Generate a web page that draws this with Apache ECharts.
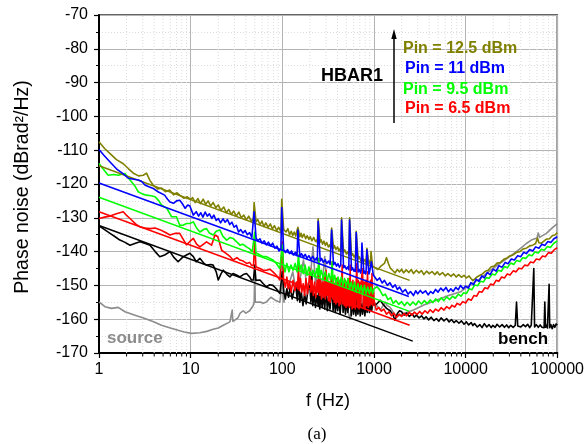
<!DOCTYPE html>
<html>
<head>
<meta charset="utf-8">
<script src="https://cdn.jsdelivr.net/npm/echarts@6/dist/echarts.min.js"></script>
<style>html,body{margin:0;padding:0;background:#fff}#c{width:587px;height:444px}</style>
</head>
<body>
<div id="c"></div>
<script>
// ---------- tick lists ----------
const xMinorTicks = [2,3,4,5,6,7,8,9,20,30,40,50,60,70,80,90,200,300,400,500,600,700,800,900,
  2000,3000,4000,5000,6000,7000,8000,9000,20000,30000,40000,50000,60000,70000,80000,90000];
const seriesNames = ['Pin = 12.5 dBm','Pin = 11 dBm','Pin = 9.5 dBm','Pin = 6.5 dBm','bench','source'];

// ---------- measured data [f (Hz), dBrad2/Hz] ----------
const olive125 = [[1,-107.5],[1.15,-109.5],[1.32,-111],[1.55,-112.8],[1.84,-114],[2.1,-115.5],[2.37,-116.8],[2.7,-117.6],[3.04,-117.4],[3.3,-116.8],[3.6,-119],[3.9,-120.3],[4.4,-121.5],[4.8,-121.2],[5.3,-122.3],[5.9,-121.8],[6.5,-123.2],[7.1,-122.6],[7.6,-123.3],[8.4,-124.2],[9.2,-123.8],[10,-124.6],
  [10.5,-124],[11.2,-125.5],[12,-124.3],[12.8,-125.8],[13.7,-124.5],[14.6,-126],[15.5,-125],[16.5,-126.5],[17.6,-125.5],[18.8,-127],[20,-126.2],[21.3,-127.8],[23,-126.8],[24.5,-128.5],[26,-127.5],[27.8,-129],[29.5,-128],[31.5,-129.5],[33.5,-128.3],[35.7,-130],[38,-129.2],[40.5,-130.6],[43,-129.5],[46,-131],[48.3,-130.3],[49.25,-125.5],[50.75,-125.5],[51.75,-131.2],[54,-130.5],[57,-132],[60,-131],[63,-132.6],[66,-131.5],[70,-132.8],[74,-131.8],[78,-133.3],[82,-132.3],[87,-133.8],[91,-132.8],[96.5,-134],[98.5,-124.5],[101.5,-124.5],[103.5,-133.5],
  [110,-134.2],[115,-133.2],[120,-135],[125,-134],[130,-135.2],[135,-134.2],[140,-135.4],[144.8,-135],[147.8,-132.8],[152.3,-132.8],[155.3,-135.6],[160,-134.6],[165,-135.8],[172,-134.8],[180,-136.2],[187,-135.3],[195,-136.4],[202,-135.6],[210,-136.8],[220,-135.8],[230,-137],[240,-136.4],[241,-137.4],[246,-130.3],[254,-130.3],[259,-137.2],[265,-136.5],[275,-137.8],[285,-136.9],[295,-138.2],[305,-137.3],[318,-138.6],[330,-138],[338,-139],[345,-133],[355,-133],[362,-139],[370,-138.2],[385,-139.4],[400,-138.6],[415,-139.8],[430,-139],[434,-140],[443,-130],[457,-130],[466,-140.2],[480,-139.5],[500,-140.7],[520,-140],[531,-141],[542,-130],[558,-130],[569,-141.2],[585,-140.6],[605,-141.6],[625,-141],[627,-142],[640,-134],[660,-134],[673,-142.2],[690,-141.5],[720,-142.7],[750,-142],[775,-143],[800,-142.3],[820,-143.4],[837,-139],[863,-139],[880,-143.6],[895,-142.8],[917,-144],[928,-140],[952,-140],[966,-144.3],[1000,-144.5],
  [1100,-145.3],[1200,-144.2],[1300,-143.5],[1370,-141.8],[1440,-143.6],[1500,-144.8],[1600,-145.6],[1700,-146.3],[1800,-145.3],[1900,-146],[2000,-145.2],[2100,-146.3],[2250,-145.4],[2400,-146.2],[2550,-145.3],[2700,-146.5],[2900,-145.5],[3100,-146.3],[3300,-145.6],[3500,-146.8],[3750,-145.8],[4000,-146.5],[4300,-145.9],[4600,-146.8],[4900,-146],[5200,-146.9],[5600,-146.2],[6000,-147.2],[6400,-146.5],[6900,-147.3],[7400,-146.6],[7900,-147.5],[8400,-146.8],[9000,-147.6],[9600,-147],[10200,-147.8],[10900,-147.2],[11500,-148],[12000,-148.6],[12600,-148.2],[13300,-147.5],[14300,-147],[15300,-146.6],[16400,-145.8],[17600,-145.5],[19000,-144.5],[20500,-144.3],[22000,-143.4],[24000,-143.2],[26000,-142.3],[28000,-142],[30000,-141.3],[33000,-141],[36000,-140.2],[39000,-140],[42500,-139.2],[46000,-139],[50000,-138.3],[54000,-138.1],[58000,-137.6],[60700,-136],[63000,-137.4],[67000,-137.5],[70000,-137],[76000,-136.3],[82000,-136.2],[88000,-135.3],[94000,-135.1],[100000,-134.4]];

const blue11 = [[1,-109.8],[1.13,-111.5],[1.32,-113.5],[1.55,-115.5],[1.84,-117],[2.09,-118.3],[2.4,-118.6],[2.68,-118.8],[2.9,-119.2],[3.17,-120.3],[3.5,-120.8],[3.9,-121.3],[4.4,-122.3],[5.2,-123.3],[5.6,-124.5],[5.95,-125.3],[6.5,-125.7],[7,-125],[7.6,-124.8],[8.2,-126],[8.7,-127.2],[9.3,-126.2],[9.8,-126.5],
  [10.7,-129.2],[11.5,-128.2],[12.2,-129.5],[12.9,-128.5],[13.6,-129.8],[14.4,-128.3],[15.2,-129.5],[16,-128.8],[17,-130.2],[17.9,-129.2],[19,-130.8],[20,-130.2],[21.2,-131.5],[22.5,-130.3],[23.8,-131.3],[25.2,-130.5],[26.7,-132],[28.2,-131.3],[29.8,-132.8],[31.5,-132.2],[33.3,-134.2],[35.2,-133.5],[37.2,-134.5],[39.3,-133.8],[41.5,-135],[44,-134.4],[46.5,-135.8],[48.3,-135.5],[49.25,-128.2],[50.75,-128.2],[51.75,-136],[54,-136.8],[57,-136.2],[60,-137.5],[63.5,-136.8],[67,-138],[70.5,-137.2],[74.5,-138.3],[78.5,-137.5],[83,-139],[87.5,-138.4],[92,-139.8],[96.5,-139.2],[98.5,-127],[101.5,-127],[103.5,-139.5],
  [108,-140.3],[114,-139.4],[120,-140.6],[126,-139.8],[132,-141],[139,-140.2],[144.8,-141.2],[147.8,-133.6],[152.3,-133.6],[155.3,-141.4],[162,-140.6],[170,-141.6],[178,-140.8],[186,-142],[195,-141.2],[205,-142.3],[215,-141.4],[226,-142.6],[237,-141.8],[241,-142.8],[246,-131],[254,-131],[259,-142.8],[268,-142],[280,-143.2],[293,-142.4],[306,-143.5],[320,-142.8],[332,-143.8],[338,-143.3],[345,-133.6],[355,-133.6],[362,-143.9],[375,-143.2],[390,-144.3],[405,-143.6],[420,-144.6],[434,-144],[443,-130.7],[457,-130.7],[466,-144.8],[480,-144.2],[500,-145.2],[520,-144.5],[531,-145.4],[542,-130.7],[558,-130.7],[569,-145.5],[585,-144.8],[605,-145.8],[625,-145.1],[627,-145.9],[640,-134.4],[660,-134.4],[673,-146],[690,-145.3],[715,-146.3],[724,-145.7],[739,-137.5],[761,-137.5],[776,-146.4],[790,-145.8],[812,-146.6],[820,-146],[837,-139.5],[863,-139.5],[880,-146.6],[895,-146],[917,-146.3],[936,-143],[964,-143],[983,-146.9],[1000,-147],
  [1080,-148.5],[1150,-147.8],[1230,-149.3],[1300,-148.5],[1400,-150],[1490,-149.2],[1600,-150.6],[1700,-149.8],[1800,-151.2],[1900,-150.5],[2050,-152],[2200,-151.2],[2350,-152.6],[2500,-151.8],[2700,-153],[2850,-151.6],[3000,-152.5],[3200,-151.5],[3400,-152.3],[3650,-151.6],[3900,-152.8],[4150,-151.8],[4400,-152.4],[4700,-151.2],[5000,-152],[5350,-150.8],[5700,-151.6],[6100,-150.6],[6500,-151.9],[6900,-151],[7300,-151.8],[7800,-150.6],[8300,-151.3],[8800,-150],[9400,-151],[10000,-150.2],[10700,-150.8],[11400,-149.2],[12200,-149.8],[13000,-148.2],[14000,-148.8],[15000,-147.2],[16000,-147.8],[17200,-146.2],[18500,-146.8],[20000,-145.2],[21500,-145.8],[23000,-144.2],[25000,-144.6],[27000,-143.2],[29000,-143.6],[31500,-142.2],[34000,-142.5],[37000,-141.2],[40000,-141.5],[43000,-140.2],[46000,-140.6],[50000,-139.4],[54000,-139.8],[58000,-138.6],[63000,-139],[68000,-137.8],[73000,-138.2],[79000,-137],[85000,-137.3],[92000,-136.2],[100000,-135.6]];

const green95 = [[1,-113.9],[1.1,-115.4],[1.26,-117.4],[1.45,-117.2],[1.62,-117.4],[1.92,-116.9],[2.18,-118.8],[2.45,-120.5],[2.68,-122.3],[3.0,-123],[3.3,-123.3],[3.7,-123.5],[4.1,-123.8],[4.5,-125],[4.8,-126.2],[5.5,-127.2],[6.2,-129.7],[7,-129.7],[7.6,-132.2],[8.3,-132.2],[9,-131.7],[9.8,-131.7],
  [10.7,-131.2],[11.6,-133],[12.6,-134.2],[14,-133.4],[14.9,-133.2],[16,-134.5],[17.6,-135.1],[19,-134],[20.8,-133.6],[22.5,-135.5],[24.7,-136.6],[27,-135.8],[29,-136.1],[32,-137.2],[34.5,-138.1],[37,-137.8],[40.7,-138.6],[44,-139.2],[47,-140],[48.5,-139.8],[50,-134.2],[51.5,-140.3],[57,-141],[62,-141.5],[67,-141.5],[73,-142],[79,-142.5],[86,-143.5],[94,-145],[97,-144.5],[100,-138],[103,-144],
  [107,-146],[112,-143.5],[118,-146],[124,-144],[131,-145.5],[138,-143.5],[145,-146],[150,-141],[155,-145.5],[161,-144],[169,-146.5],[177,-144],[186,-147],[195,-144.5],[205,-147],[216,-145.5],[227,-147.5],[238,-145],[244,-147],[250,-142],[256,-147.5],[266,-145.5],[280,-148],[294,-146],[308,-148.5],[322,-146.5],[336,-148.5],[343,-147],[350,-143],[357,-149],[372,-147],[388,-149.5],[405,-147.5],[422,-150],[440,-147.5],[458,-150],[478,-148],[498,-150.5],[520,-148],[542,-151],[565,-149],[589,-151.5],[614,-149],[640,-152],[667,-149.5],[695,-152],[724,-150],[755,-152.5],[787,-150],[820,-152.5],[855,-150.5],[891,-152.5],[929,-150.5],[968,-152.5],[1000,-151],
  [1080,-150.4],[1160,-151.4],[1250,-153],[1330,-152.6],[1420,-154.2],[1520,-153.6],[1620,-155.3],[1740,-154.5],[1860,-155.6],[2000,-154.8],[2150,-156],[2300,-155],[2480,-155.9],[2660,-154.9],[2860,-155.8],[3060,-154.6],[3300,-155.5],[3550,-154.5],[3800,-155.4],[4100,-154.3],[4400,-155.1],[4700,-154],[5050,-154.8],[5400,-153.7],[5800,-154.5],[6200,-153.4],[6700,-154.2],[7200,-153.2],[7700,-153.8],[8300,-152.6],[8900,-153.2],[9500,-152.2],[10200,-152.4],[10900,-151],[11700,-151.3],[12500,-149.9],[13500,-150.1],[14500,-148.8],[15600,-149],[16800,-147.7],[18000,-147.9],[19500,-146.6],[21000,-146.9],[22700,-145.5],[24500,-145.8],[26500,-144.4],[28500,-144.8],[31000,-143.4],[33500,-143.8],[36000,-142.6],[39000,-142.9],[42000,-141.8],[45500,-142],[49000,-140.9],[53000,-141.2],[57000,-140.1],[62000,-140.4],[67000,-139.3],[72000,-139.6],[78000,-138.5],[84000,-138.8],[91000,-137.6],[100000,-136.8]];

const red65 = [[1,-130.2],[1.15,-129.8],[1.32,-129.5],[1.55,-128.8],[1.84,-128.2],[2.0,-129.3],[2.18,-130.2],[2.5,-131.8],[2.8,-132.7],[3.2,-133],[3.6,-133.2],[4.1,-133],[4.6,-133.5],[5.2,-134.2],[5.95,-135.1],[6.8,-134.6],[7.6,-134.6],[8.3,-136.4],[9,-138],[9.8,-137],
  [10.7,-136.1],[11.6,-137.8],[12.6,-138.6],[14.9,-137.1],[16.9,-138.1],[18.4,-135.1],[19.8,-135.6],[21.8,-139.6],[24.5,-140.6],[27,-141.5],[29,-142.5],[32,-141.8],[34.5,-142.5],[37.5,-142.8],[40.7,-143.5],[44,-143.2],[46,-144],[48.5,-144.2],[50,-136.6],[51.5,-144.5],[57,-145],[62,-145.5],[67,-145.5],[73,-145.2],[79,-146],[86,-147],[94,-148.4],[97,-148],[100,-137.1],[103,-148],
  [108,-150.5],[112,-147.5],[116,-151],[120,-149],[125,-152],[131,-148.5],[137,-151.5],[143,-149],[147,-151],[150,-143.5],[153,-151.5],[158,-148],[163,-152],[169,-149.5],[175,-153],[181,-148],[188,-152.5],[195,-149],[200,-145],[205,-152],[211,-148.5],[218,-153],[225,-149],[232,-153.5],[240,-148.5],[246,-152],[250,-143],[254,-153],[260,-148],[267,-154],[274,-149],[281,-153.5],[288,-147.5],[295,-154],[300,-145.5],[305,-153],[312,-148],[319,-154.5],[326,-149],[333,-155],[340,-148.5],[346,-153],[350,-143],[354,-154],[361,-148],[368,-155],[376,-149.5],[384,-155.5],[392,-148],[400,-155],[408,-149],[416,-156],[425,-148.5],[434,-155.5],[443,-150],[450,-144],[456,-155.5],[465,-149],[475,-156],[485,-148.5],[495,-156.5],[505,-149],[515,-156],[526,-148],[538,-156.5],[546,-150],[550,-144],[554,-156],[565,-149],[577,-157],[589,-148.5],[601,-156.5],[613,-149.5],[626,-157],[639,-149],[650,-143.5],[660,-156.5],[673,-148.5],[687,-157],[701,-149],[716,-156.5],[731,-148],[750,-145],[766,-156.5],[782,-149],[798,-157],[815,-148.5],[832,-156],[850,-146],[866,-156.5],[884,-149.5],[902,-156],[920,-148.5],[939,-155.5],[950,-146.5],[970,-156],[990,-152],[1000,-154.4],
  [1060,-157.3],[1130,-156.5],[1200,-157.6],[1280,-157],[1370,-158.5],[1460,-157.8],[1550,-159],[1650,-158.2],[1760,-159.5],[1880,-158.5],[2000,-159.2],[2130,-158.3],[2270,-159],[2420,-158],[2600,-158.8],[2760,-157.9],[2950,-158.6],[3150,-157.7],[3350,-158.5],[3600,-157.5],[3850,-158.2],[4100,-157.2],[4400,-158],[4700,-157],[5050,-157.6],[5400,-156.6],[5800,-157.3],[6200,-156.3],[6650,-156.9],[7100,-155.9],[7600,-156.4],[8100,-155.3],[8700,-155.8],[9300,-154.8],[10000,-155.2],[10700,-154],[11500,-154.4],[12300,-153],[13200,-153.2],[14100,-151.8],[15100,-152],[16200,-150.7],[17400,-151],[18700,-149.6],[20000,-149.9],[21500,-148.5],[23000,-148.8],[24700,-147.5],[26500,-147.8],[28500,-146.6],[30500,-146.9],[33000,-145.7],[35500,-146],[38000,-144.9],[41000,-145.1],[44000,-144],[47500,-144.2],[51000,-143.1],[55000,-143.3],[59000,-142.2],[64000,-142.4],[69000,-141.3],[74000,-141.5],[80000,-140.3],[86000,-140.5],[93000,-139.4],[100000,-138.8]];

const bench = [[1,-132.4],[1.15,-133.5],[1.32,-134.6],[1.5,-135.6],[1.69,-136.6],[1.9,-137.2],[2.18,-138.1],[2.5,-137.5],[2.8,-137.1],[3.2,-137.6],[3.6,-138.1],[4.1,-140],[4.6,-141.5],[5.2,-141],[5.95,-140],[6.6,-141.8],[7.3,-143],[8.3,-141.5],[9.8,-140.5],
  [10.7,-141.5],[11.5,-143],[12.6,-142],[14,-143.5],[14.9,-144],[16.5,-143.8],[17.6,-144],[19,-146],[20,-148.4],[21.5,-146.5],[22.7,-145.5],[25,-146.8],[26.8,-147.5],[29,-146.5],[32,-147],[34.5,-147.5],[37.5,-146.8],[40.7,-146.5],[44,-147.5],[46,-148.4],[48.5,-148.4],[50,-144],[51.5,-148.5],[57,-148.4],[62,-149.5],[67,-150.4],[73,-149.8],[79,-150],[86,-151],[94,-152.4],
  [100,-146],[104,-152],[108,-154],[112,-151],[117,-153.5],[122,-150.5],[128,-154],[134,-151.5],[140,-150],[146,-154.5],[150,-147.5],[155,-155],[161,-152],[168,-156],[175,-152.5],[182,-155.5],[190,-151.5],[200,-150],[205,-155],[210,-146.5],[215,-156],[222,-152.5],[230,-156.5],[238,-153],[246,-156],[250,-149],[256,-157],[264,-153],[272,-156.5],[281,-152.5],[290,-157],[300,-151],[310,-157.5],[320,-153.5],[331,-157],[342,-153],[350,-150],[358,-157.5],[368,-153.5],[379,-158],[390,-154],[402,-157.5],[414,-153.5],[427,-158.5],[440,-154],[450,-151],[460,-158],[474,-154],[488,-158.5],[503,-154.5],[518,-158],[533,-155],[550,-153],[566,-159],[583,-154.5],[600,-158.5],[618,-155],[636,-159],[650,-154],[668,-158.5],[688,-155],[708,-159],[729,-155.5],[750,-158.5],[772,-155],[795,-159],[818,-155.5],[842,-158],[866,-155],[891,-158],[917,-155.5],[944,-157.5],[972,-155],[1000,-155.8],
  [1070,-155.5],[1170,-154.4],[1250,-155.5],[1370,-156.8],[1500,-157.5],[1600,-158.5],[1690,-160.3],[1800,-158.3],[1900,-157.5],[2000,-157.8],[2130,-158.8],[2270,-158.2],[2430,-159.2],[2600,-158.4],[2750,-159.4],[2900,-158.8],[3100,-159.6],[3300,-159],[3500,-159.9],[3700,-159.3],[3950,-160.2],[4200,-159.4],[4500,-160.4],[4800,-159.8],[5100,-160.6],[5400,-159.6],[5800,-160.5],[6200,-159.8],[6600,-160.8],[7000,-160.1],[7450,-161],[7900,-160.4],[8450,-161.2],[9000,-160.5],[9600,-161.5],[10200,-160.8],[10800,-161.7],[11500,-161],[12000,-161.9],[12500,-161.3],[13400,-162.3],[14300,-161.6],[15100,-162.5],[16000,-161.3],[17000,-162.3],[18000,-161.6],[19000,-162.5],[19800,-161.8],[21000,-162.4],[22000,-161.5],[23500,-162.3],[25000,-161.6],[26500,-162.4],[28000,-161.7],[29500,-162.5],[31000,-161.8],[33000,-162.4],[34800,-161.8],[35900,-154.9],[37000,-162],[38500,-161.5],[40000,-162.3],[42500,-161.6],[45000,-162.2],[47500,-161.5],[50000,-162.5],[52000,-161.8],[54300,-162],[55400,-145],[56500,-162.3],[59000,-161.6],[62000,-162.4],[65000,-161.7],[68000,-162.4],[71800,-162.5],[73100,-154.9],[74300,-162.4],[76000,-161.8],[78000,-162.6],[80300,-162.2],[81400,-149.7],[82600,-162.5],[85000,-161.6],[88000,-162.8],[91000,-161.6],[94000,-162.4],[97000,-161.4],[100000,-161.8]];

const source = [[1,-154.9],[1.16,-156.3],[1.37,-156.8],[1.62,-156.5],[1.92,-157.8],[2.47,-158.8],[3.17,-159.8],[4,-160.8],[4.8,-161.8],[6,-162.6],[7.3,-163.3],[8.5,-163.8],[10.2,-164.2],[12.6,-164],[15,-163.6],[17.6,-163],[20,-162.6],[22.7,-161.8],[26.8,-160.8],[28,-160.5],[28.4,-157.3],[28.8,-160.6],[30.3,-160.3],[33,-159.5],[34.5,-158.3],[37.4,-157.5],[40,-158.2],[44,-157.5],[48,-156],[49.3,-155],[50,-146],[50.7,-155],[53,-155.5],[57,-154.9],[62,-155.3],[67,-154.9],[75,-153.5],[85,-154.5],[94,-155],[98.5,-150],[100,-138],[101.5,-150],[104,-155],
  [110,-152],[120,-149],[130,-146],[140,-151],[155,-148.5],[170,-142.5],[185,-150],[200,-149],[216,-138.6],[230,-149.5],[250,-145],[270,-151],[290,-141.5],[310,-151],[330,-150],[360,-152],[390,-148],[420,-155],[460,-151],[500,-156],[550,-160],[600,-153],[650,-156],[700,-152],[760,-156],[820,-154],[900,-151],[950,-155],[1000,-155],
  [1170,-157.3],[1320,-155],[1400,-156],[1500,-156.5],[1760,-159.3],[2100,-158.3],[2700,-157.3],[3500,-155.8],[4800,-154.4],[6500,-153],[8800,-151.9],[10900,-150],[14000,-148.2],[19800,-145],[25000,-143],[32000,-141],[40000,-139],[46000,-137.6],[52000,-136.6],[60000,-136],[62000,-134.5],[64000,-135.8],[76000,-134.6],[88000,-133],[100000,-131.7]];

// 1/f fit lines
const fitOlive = [[1,-114.6],[2450,-148.5]];
const fitBlue  = [[1,-119.7],[2400,-153.3]];
const fitGreen = [[1,-123.9],[2400,-157.6]];
const fitRed   = [[1,-128.2],[2450,-161.8]];
const fitBlack = [[1,-132.3],[2650,-166.5]];

const C = {olive:'#808000', blue:'#0000ff', green:'#00ff00', red:'#ff0000', black:'#000000', grey:'#8c8c8c'};
const FONT = 'Liberation Sans, Arial, sans-serif';

function line(name, data, color, z, w) {
  return {name, type:'line', data, showSymbol:false, symbol:'none', z, silent:true,
    lineStyle:{color, width:w||1.6, join:'round'}, itemStyle:{color}};
}

const chart = echarts.init(document.getElementById('c'), null, {renderer:'canvas'});
chart.setOption({
  animation:false,
  backgroundColor:'#fff',
  grid:{left:99, right:29, top:15, bottom:91, show:true, borderColor:'#333', borderWidth:1.5, backgroundColor:'transparent'},
  xAxis:{type:'log', logBase:10, min:1, max:100000,
    axisLine:{onZero:false, lineStyle:{color:'#000', width:2}},
    axisTick:{inside:false, length:5, lineStyle:{color:'#000', width:1.2}},
    axisLabel:{color:'#000', fontSize:16, fontFamily:FONT, margin:9, formatter:v=>String(Math.round(v))},
    splitLine:{show:true, lineStyle:{color:'#b4b4b4', width:1}}},
  yAxis:{type:'value', min:-170, max:-70, interval:10,
    axisLine:{show:true, lineStyle:{color:'#000', width:2}},
    axisTick:{inside:false, length:5, lineStyle:{color:'#000', width:1.2}},
    minorTick:{show:true, splitNumber:2, length:3, lineStyle:{color:'#000', width:1}},
    minorSplitLine:{show:true, lineStyle:{color:'#dcdcdc', type:[1,2], width:1}},
    axisLabel:{color:'#000', fontSize:16, fontFamily:FONT, margin:11},
    splitLine:{show:true, lineStyle:{color:'#b4b4b4', width:1}}},
  series:[
    {type:'custom', coordinateSystem:'cartesian2d', silent:true, z:1, clip:false,
      data: xMinorTicks.map(v=>[v,-170]), encode:{x:0, y:1},
      renderItem:(params, api)=>{
        const v = api.value(0);
        const p0 = api.coord([v,-170]), p1 = api.coord([v,-70]);
        return {type:'group', children:[
          {type:'line', shape:{x1:p0[0],y1:p0[1],x2:p1[0],y2:p1[1]}, style:{stroke:'#dcdcdc', lineWidth:1, lineDash:[1,2]}},
          {type:'line', shape:{x1:p0[0],y1:p0[1],x2:p0[0],y2:p0[1]+3.5}, style:{stroke:'#000', lineWidth:1}}
        ]};
      }},
    line(seriesNames[5], source, C.grey, 3),
    line(seriesNames[4], bench, C.black, 4),
    line(seriesNames[3], red65, C.red, 5),
    line(seriesNames[2], green95, C.green, 6),
    line(seriesNames[0], olive125, C.olive, 7),
    line('fit olive', fitOlive, C.olive, 8, 1.5),
    line('fit blue', fitBlue, C.blue, 8, 1.5),
    line('fit green', fitGreen, C.green, 8, 1.5),
    line('fit red', fitRed, C.red, 8, 1.5),
    line('fit black', fitBlack, C.black, 8, 1.5),
    line(seriesNames[1], blue11, C.blue, 9)
  ],
  graphic:[
    {type:'text', x:23, y:187, rotation:Math.PI/2, z:20,
      style:{text:'Phase noise (dBrad²/Hz)', fill:'#000', font:'19.5px '+FONT, textAlign:'center', textVerticalAlign:'middle'}},
    {type:'text', x:328, y:401, z:20,
      style:{text:'f (Hz)', fill:'#000', font:'18px '+FONT, textAlign:'center', textVerticalAlign:'middle'}},
    {type:'text', x:317, y:435, z:20,
      style:{text:'(a)', fill:'#000', font:'17px Liberation Serif, serif', textAlign:'center', textVerticalAlign:'middle'}},
    {type:'text', x:352, y:76, z:20,
      style:{text:'HBAR1', fill:'#000', font:'bold 18px '+FONT, textAlign:'center', textVerticalAlign:'middle'}},
    {type:'line', z:20, shape:{x1:394, y1:123, x2:394, y2:38}, style:{stroke:'#000', lineWidth:1.5}},
    {type:'polygon', z:20, shape:{points:[[394,29],[391.3,39],[396.7,39]]}, style:{fill:'#000'}},
    {type:'text', x:403, y:49, z:20,
      style:{text:seriesNames[0], fill:C.olive, font:'bold 16px '+FONT, textAlign:'left', textVerticalAlign:'middle'}},
    {type:'text', x:405, y:68.5, z:20,
      style:{text:seriesNames[1], fill:C.blue, font:'bold 16px '+FONT, textAlign:'left', textVerticalAlign:'middle'}},
    {type:'text', x:403, y:89.5, z:20,
      style:{text:seriesNames[2], fill:C.green, font:'bold 16px '+FONT, textAlign:'left', textVerticalAlign:'middle'}},
    {type:'text', x:405, y:108.5, z:20,
      style:{text:seriesNames[3], fill:C.red, font:'bold 16px '+FONT, textAlign:'left', textVerticalAlign:'middle'}},
    {type:'text', x:107, y:338, z:20,
      style:{text:seriesNames[5], fill:C.grey, font:'bold 17px '+FONT, textAlign:'left', textVerticalAlign:'middle'}},
    {type:'text', x:498, y:339, z:20,
      style:{text:seriesNames[4], fill:'#000', font:'bold 17px '+FONT, textAlign:'left', textVerticalAlign:'middle'}}
  ]
});
</script>
</body>
</html>
